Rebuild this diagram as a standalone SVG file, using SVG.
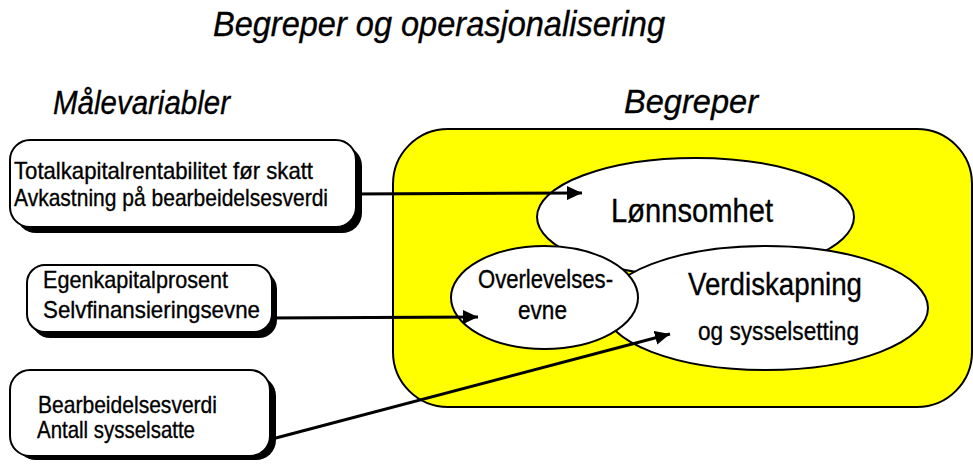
<svg xmlns="http://www.w3.org/2000/svg" width="973" height="464" viewBox="0 0 973 464">
<defs>
<style>
.t{font-family:"Liberation Sans",Arial,sans-serif;fill:#000;stroke:#000;stroke-width:0.35}
.h{font-style:italic;font-size:34px}
.bx{font-size:24px}
.sh{fill:#000}
.box{fill:#fff;stroke:#000;stroke-width:2}
.ell{fill:#fff;stroke:#000;stroke-width:2}
.con{stroke:#000;stroke-width:3;fill:none;marker-end:url(#ah)}
</style>
<marker id="ah" markerUnits="userSpaceOnUse" markerWidth="16" markerHeight="14" refX="15" refY="7" orient="auto">
<path d="M0,0 L15,7 L0,14 z" fill="#000"/>
</marker>
</defs>
<rect width="973" height="464" fill="#fff"/>
<text class="t" x="213" y="36" font-size="35" font-style="italic" textLength="452" lengthAdjust="spacingAndGlyphs">Begreper og operasjonalisering</text>
<text class="t h" x="53" y="114" textLength="177" lengthAdjust="spacingAndGlyphs">Målevariabler</text>
<text class="t h" x="624" y="113" textLength="134" lengthAdjust="spacingAndGlyphs">Begreper</text>

<g id="begreper">
<rect x="393" y="129" width="579" height="278" rx="55" fill="#ffff00" stroke="#000" stroke-width="2"/>
</g>
<g id="lonnsomhet">
<ellipse class="ell" cx="695.5" cy="217" rx="158.5" ry="59"/>
<text class="t" x="611" y="222" font-size="33" textLength="162" lengthAdjust="spacingAndGlyphs">Lønnsomhet</text>
</g>
<g id="verdiskapning">
<ellipse class="ell" cx="766" cy="308" rx="162" ry="62"/>
<text class="t" x="688" y="295" font-size="31" textLength="174" lengthAdjust="spacingAndGlyphs">Verdiskapning</text>
<text class="t" x="698" y="340" font-size="26" textLength="161" lengthAdjust="spacingAndGlyphs">og sysselsetting</text>
</g>
<g id="overlevelse">
<ellipse class="ell" cx="544.5" cy="297.5" rx="93.5" ry="51.5"/>
<text class="t" x="478" y="288" font-size="25" textLength="135" lengthAdjust="spacingAndGlyphs">Overlevelses-</text>
<text class="t" x="518" y="319" font-size="25" textLength="49" lengthAdjust="spacingAndGlyphs">evne</text>
</g>

<g id="connectors">
<line class="con" x1="350" y1="194" x2="582" y2="193"/>
<line class="con" x1="265" y1="318" x2="478" y2="317"/>
<line class="con" x1="272" y1="439" x2="670" y2="334"/>
</g>

<g id="box1">
<rect class="sh" x="16" y="146" width="346" height="87" rx="20"/>
<rect class="box" x="10" y="140" width="346" height="87" rx="20"/>
<text class="t bx" x="14" y="179" textLength="299" lengthAdjust="spacingAndGlyphs">Totalkapitalrentabilitet  før skatt</text>
<text class="t bx" x="14" y="206" textLength="314" lengthAdjust="spacingAndGlyphs">Avkastning på bearbeidelsesverdi</text>
</g>
<g id="box2">
<rect class="sh" x="32" y="271" width="245" height="67" rx="18"/>
<rect class="box" x="27" y="265" width="245" height="67" rx="18"/>
<text class="t bx" x="43" y="288" textLength="185" lengthAdjust="spacingAndGlyphs">Egenkapitalprosent</text>
<text class="t bx" x="43" y="318" textLength="217" lengthAdjust="spacingAndGlyphs">Selvfinansieringsevne</text>
</g>
<g id="box3">
<rect class="sh" x="16" y="376" width="260" height="84" rx="20"/>
<rect class="box" x="10" y="370" width="260" height="86" rx="20"/>
<text class="t bx" x="38" y="413" textLength="179" lengthAdjust="spacingAndGlyphs">Bearbeidelsesverdi</text>
<text class="t bx" x="37" y="438" textLength="158" lengthAdjust="spacingAndGlyphs">Antall sysselsatte</text>
</g>
</svg>
